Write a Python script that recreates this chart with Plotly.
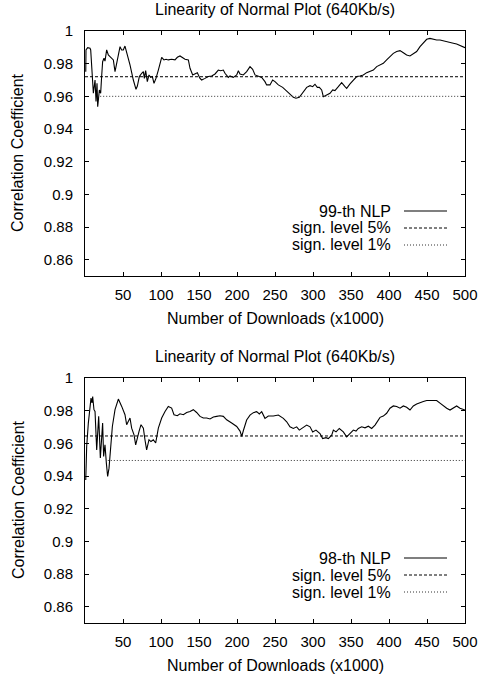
import plotly.graph_objects as go

# ---------------- data ----------------
top_x = [1, 1.3, 3.5, 6.6, 7.5, 8.8, 11.0, 13.2, 14.5, 15.8, 16.7, 18.9, 20.6, 21.9, 23.2, 25.0, 26.3,
         28.5, 30.7, 32.9, 35.1, 37.3, 39.5, 41.7, 46.1, 48.2, 50.4, 52.6, 54.8, 57.0, 59.2, 63.6,
         67.1, 68.9, 71.5, 74.6, 76.8, 78.1, 79.8, 82.0, 84.2, 86.4, 88.6, 90.8, 93.4, 96.5, 100.9,
         103.9, 106.6, 109.6, 114.0, 118.4, 121.5, 125.0, 128.5, 131.6, 136.0, 138.2, 141.7, 144.7,
         147.8, 151.3, 153.5, 157.9, 162.3, 166.7, 171.1, 175.4, 178.5, 182.0, 184.2, 188.6, 190.8,
         195.2, 199.6, 201.8, 203.9, 208.3, 212.7, 217.1, 220.6, 223.7, 228.1, 232.5, 236.8, 239.0,
         243.4, 246.9, 250.0, 254.4, 260.1, 265.4, 269.7, 274.1, 277.6, 282.0, 285.1, 288.2, 291.7,
         296.1, 299.6, 302.6, 305.7, 308.3, 311.4, 313.6, 317.1, 322.4, 325.9, 328.9, 333.3, 337.7,
         342.1, 344.3, 348.7, 353.1, 357.5, 361.8, 366.2, 370.6, 375.0, 379.4, 383.8, 388.2, 392.5,
         396.9, 401.3, 405.7, 410.1, 414.5, 418.9, 423.2, 427.6, 432.0, 436.4, 440.8, 445.2, 449.6,
         453.9, 458.3, 462.7, 467.1, 471.5, 475.9, 480.3, 484.6, 489.0, 493.4, 500.0]
top_y = [0.9751, 0.9884, 0.9898, 0.9894, 0.9884, 0.9802, 0.9619, 0.9700, 0.9568, 0.9680, 0.9537,
         0.9639, 0.9619, 0.9721, 0.9812, 0.9833, 0.9816, 0.9884, 0.9853, 0.9843, 0.9833, 0.9823,
         0.9751, 0.9802, 0.9904, 0.9884, 0.9884, 0.9908, 0.9874, 0.9833, 0.9792, 0.9700, 0.9643,
         0.9663, 0.9721, 0.9741, 0.9751, 0.9710, 0.9757, 0.9690, 0.9731, 0.9716, 0.9721, 0.9680,
         0.9710, 0.9761, 0.9839, 0.9823, 0.9827, 0.9823, 0.9827, 0.9823, 0.9839, 0.9847, 0.9839,
         0.9827, 0.9823, 0.9772, 0.9731, 0.9737, 0.9745, 0.9710, 0.9700, 0.9710, 0.9721, 0.9725,
         0.9737, 0.9761, 0.9757, 0.9761, 0.9741, 0.9716, 0.9725, 0.9716, 0.9731, 0.9757, 0.9737,
         0.9731, 0.9751, 0.9782, 0.9765, 0.9731, 0.9721, 0.9716, 0.9690, 0.9670, 0.9670, 0.9700,
         0.9690, 0.9670, 0.9655, 0.9635, 0.9614, 0.9594, 0.9588, 0.9594, 0.9614, 0.9639, 0.9655,
         0.9665, 0.9659, 0.9674, 0.9655, 0.9655, 0.9639, 0.9598, 0.9608, 0.9619, 0.9639, 0.9635,
         0.9659, 0.9684, 0.9659, 0.9649, 0.9676, 0.9700, 0.9721, 0.9725, 0.9731, 0.9745, 0.9751,
         0.9761, 0.9782, 0.9792, 0.9802, 0.9823, 0.9843, 0.9863, 0.9874, 0.9880, 0.9867, 0.9853,
         0.9847, 0.9859, 0.9874, 0.9904, 0.9929, 0.9949, 0.9955, 0.9949, 0.9945, 0.9945, 0.9941,
         0.9933, 0.9929, 0.9925, 0.9920, 0.9912, 0.9898]

bot_x = [1, 2.2, 4.4, 6.6, 7.9, 9.2, 10.1, 11.8, 13.2, 15.4, 18.0, 20.2, 23.2, 24.5, 26.3, 28.1, 29.8,
         31.6, 33.8, 36.0, 39.5, 43.9, 48.3, 52.6, 54.8, 57.0, 59.2, 61.4, 64.5, 66.7, 68.9, 71.1,
         73.7, 76.8, 78.9, 81.1, 84.2, 86.8, 89.9, 93.0, 96.5, 100.9, 105.3, 109.6, 114.0, 117.1,
         121.5, 125.0, 129.4, 133.8, 138.2, 142.5, 146.9, 151.3, 155.7, 160.1, 164.5, 168.9, 173.2,
         177.6, 182.0, 186.4, 193.0, 199.6, 204.0, 206.3, 208.5, 212.7, 217.1, 221.5, 225.9, 229.4,
         232.5, 236.8, 241.2, 247.8, 254.4, 261.0, 265.4, 269.7, 274.1, 278.5, 282.0, 287.3, 291.7,
         296.1, 299.6, 303.9, 309.2, 312.7, 317.1, 320.2, 324.6, 326.8, 330.3, 334.6, 339.9, 344.3,
         348.7, 353.1, 356.6, 359.6, 364.0, 368.4, 372.8, 377.2, 381.6, 386.0, 388.2, 392.5, 396.9,
         401.3, 405.7, 410.1, 414.5, 418.9, 423.2, 427.6, 432.0, 436.4, 440.8, 445.2, 449.6, 453.9,
         458.3, 462.7, 467.1, 471.5, 475.9, 480.3, 484.6, 489.0, 493.4, 500.0]
bot_y = [0.9375, 0.9581, 0.9724, 0.9826, 0.9877, 0.9847, 0.9887, 0.9806, 0.9795, 0.9560, 0.9765,
         0.9510, 0.9724, 0.9520, 0.9591, 0.9479, 0.9397, 0.9448, 0.9560, 0.9703, 0.9806, 0.9871,
         0.9826, 0.9775, 0.9714, 0.9734, 0.9755, 0.9693, 0.9652, 0.9591, 0.9642, 0.9673, 0.9714,
         0.9693, 0.9622, 0.9560, 0.9622, 0.9611, 0.9622, 0.9602, 0.9693, 0.9755, 0.9795, 0.9826,
         0.9816, 0.9775, 0.9769, 0.9781, 0.9775, 0.9789, 0.9795, 0.9806, 0.9789, 0.9765, 0.9755,
         0.9755, 0.9749, 0.9761, 0.9765, 0.9769, 0.9765, 0.9744, 0.9724, 0.9703, 0.9675, 0.9642,
         0.9680, 0.9743, 0.9773, 0.9788, 0.9794, 0.9780, 0.9794, 0.9753, 0.9767, 0.9767, 0.9773,
         0.9753, 0.9732, 0.9701, 0.9691, 0.9701, 0.9681, 0.9701, 0.9712, 0.9701, 0.9670, 0.9681,
         0.9660, 0.9629, 0.9635, 0.9629, 0.9650, 0.9681, 0.9670, 0.9691, 0.9670, 0.9640, 0.9660,
         0.9681, 0.9675, 0.9691, 0.9701, 0.9695, 0.9705, 0.9691, 0.9712, 0.9743, 0.9759, 0.9767,
         0.9784, 0.9815, 0.9829, 0.9825, 0.9815, 0.9829, 0.9821, 0.9804, 0.9829, 0.9841, 0.9850,
         0.9856, 0.9862, 0.9862, 0.9866, 0.9862, 0.9846, 0.9829, 0.9815, 0.9804, 0.9819, 0.9829,
         0.9815, 0.9804]

top_sig5_x = [0, 500]
top_sig5_y = [0.972, 0.972]
top_sig1_x = [20, 500]
top_sig1_y = [0.960, 0.960]

bot_sig5_x = [0, 500]
bot_sig5_y = [0.9645, 0.9645]
bot_sig1_x = [30, 500]
bot_sig1_y = [0.9495, 0.9495]

x_ticks = [50, 100, 150, 200, 250, 300, 350, 400, 450, 500]
y_ticks = [0.86, 0.88, 0.9, 0.92, 0.94, 0.96, 0.98, 1]

title_text = "Linearity of Normal Plot (640Kb/s)"
xlabel = "Number of Downloads (x1000)"
ylabel = "Correlation Coefficient"
legend_top = ["99-th NLP", "sign. level 5%", "sign. level 1%"]
legend_bot = ["98-th NLP", "sign. level 5%", "sign. level 1%"]

# ---------------- figure ----------------
FONT = "Liberation Sans, Arial, Helvetica, sans-serif"
W, H = 478, 678
# target plot areas in page pixels
PL, PR = 85, 465
TOP_T, TOP_B = 31, 276
BOT_T, BOT_B = 378, 623

ML = PL
MR = W - PR
MT = TOP_T
MB = H - BOT_B
plot_h = H - MT - MB
plot_w = W - ML - MR

def py2paper(py):
    return (BOT_B - py) / plot_h

def px2paper(px):
    return (px - PL) / plot_w

top_dom = [py2paper(TOP_B), 1.0]
bot_dom = [0.0, py2paper(BOT_T)]

fig = go.Figure()

solid = dict(color="black", width=1.1)
dashed = dict(color="black", width=1, dash="3px,2px")
dotted = dict(color="#333333", width=1, dash="1px,2px")

fig.add_trace(go.Scatter(x=top_x, y=top_y, mode="lines", line=solid, xaxis="x", yaxis="y", showlegend=False))
fig.add_trace(go.Scatter(x=top_sig5_x, y=top_sig5_y, mode="lines", line=dashed, xaxis="x", yaxis="y", showlegend=False))
fig.add_trace(go.Scatter(x=top_sig1_x, y=top_sig1_y, mode="lines", line=dotted, xaxis="x", yaxis="y", showlegend=False))

fig.add_trace(go.Scatter(x=bot_x, y=bot_y, mode="lines", line=solid, xaxis="x2", yaxis="y2", showlegend=False))
fig.add_trace(go.Scatter(x=bot_sig5_x, y=bot_sig5_y, mode="lines", line=dashed, xaxis="x2", yaxis="y2", showlegend=False))
fig.add_trace(go.Scatter(x=bot_sig1_x, y=bot_sig1_y, mode="lines", line=dotted, xaxis="x2", yaxis="y2", showlegend=False))

axis_common = dict(
    showline=True, linecolor="black", linewidth=1, mirror="allticks",
    ticks="inside", ticklen=4, tickcolor="black", tickwidth=1,
    showgrid=False, zeroline=False,
    tickfont=dict(family=FONT, size=15, color="black"),
)
xaxis_common = dict(axis_common, range=[0, 500], tickvals=x_ticks, domain=[0, 1], ticklabelstandoff=5)
yaxis_common = dict(axis_common, range=[0.85, 1], tickvals=y_ticks, ticklabelstandoff=8)

fig.update_layout(
    width=W, height=H,
    margin=dict(l=ML, r=MR, t=MT, b=MB, autoexpand=False),
    plot_bgcolor="white", paper_bgcolor="white",
    font=dict(family=FONT, size=16, color="black"),
    xaxis=dict(xaxis_common, anchor="y"),
    yaxis=dict(yaxis_common, anchor="x", domain=top_dom),
    xaxis2=dict(xaxis_common, anchor="y2"),
    yaxis2=dict(yaxis_common, anchor="x2", domain=bot_dom),
)

ann = []
shapes = []

for title_py, xlab_py, ylab_py in [(10, 318, 153), (356, 665, 500)]:
    ann.append(dict(text=title_text, x=0.5, y=py2paper(title_py), xref="paper", yref="paper",
                    xanchor="center", yanchor="middle", showarrow=False, font=dict(size=16)))
    ann.append(dict(text=xlabel, x=0.5, y=py2paper(xlab_py), xref="paper", yref="paper",
                    xanchor="center", yanchor="middle", showarrow=False, font=dict(size=16)))
    ann.append(dict(text=ylabel, x=px2paper(18), y=py2paper(ylab_py), xref="paper", yref="paper",
                    xanchor="center", yanchor="middle", showarrow=False, textangle=-90, font=dict(size=16)))

styles = [solid, dashed, dotted]
for xa, ya, labels in [("x", "y", legend_top), ("x2", "y2", legend_bot)]:
    for i, (lab, st) in enumerate(zip(labels, styles)):
        yd = 1 - (180 + 17 * i) / 245
        ann.append(dict(text=lab, x=(393 - PL) / (PR - PL), y=yd, xref=f"{xa} domain", yref=f"{ya} domain",
                        xanchor="right", yanchor="middle", showarrow=False, font=dict(size=16)))
        shapes.append(dict(type="line", xref=f"{xa} domain", yref=f"{ya} domain",
                           x0=(404 - PL) / (PR - PL), x1=(447 - PL) / (PR - PL), y0=yd, y1=yd, line=st))

fig.update_layout(annotations=ann, shapes=shapes)
fig.write_html(
    "out.html",
    config={"displayModeBar": False, "staticPlot": True},
    post_script="document.body.style.margin='0';document.body.style.overflow='hidden';",
)
